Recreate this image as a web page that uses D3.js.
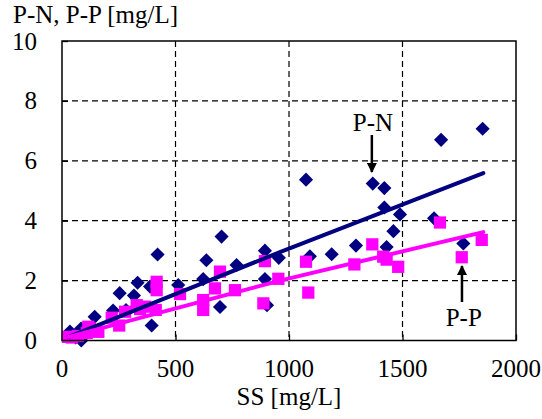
<!DOCTYPE html>
<html>
<head>
<meta charset="utf-8">
<script src="https://cdn.jsdelivr.net/npm/d3@7"></script>
<style>
  body { margin: 0; background: #fff; }
</style>
</head>
<body>
<svg id="chart"></svg>
<script>
// [SS, value] pairs
const pnPoints = [
  [35, 0.30], [60, 0.10], [84, 0.40], [85, 0.0], [144, 0.79], [225, 1.0],
  [254, 1.58], [282, 1.02], [317, 1.50], [333, 1.93], [388, 1.80], [395, 0.50],
  [421, 2.87], [512, 1.85], [622, 2.05], [636, 2.68], [696, 1.12], [703, 3.47],
  [769, 2.52], [894, 3.0], [894, 2.05], [903, 1.18], [955, 2.76], [1075, 5.37],
  [1092, 2.81], [1188, 2.88], [1295, 3.17], [1369, 5.24], [1420, 5.09], [1420, 4.44],
  [1430, 3.12], [1460, 3.65], [1489, 4.21], [1639, 4.08], [1670, 6.70], [1768, 3.24],
  [1853, 7.07]
]
const ppPoints = [
  [26, 0.12], [43, 0.10], [70, 0.15], [109, 0.25], [116, 0.46], [123, 0.40],
  [160, 0.29], [219, 0.76], [252, 0.50], [278, 0.96], [329, 1.18], [344, 1.05],
  [366, 1.13], [413, 1.02], [417, 1.68], [417, 1.96], [520, 1.55], [622, 1.02],
  [622, 1.35], [674, 1.74], [696, 2.30], [762, 1.68], [887, 1.24], [894, 2.65],
  [953, 2.06], [1075, 2.63], [1085, 1.60], [1288, 2.54], [1367, 3.21], [1415, 2.80],
  [1430, 2.70], [1481, 2.46], [1665, 3.94], [1761, 2.78], [1849, 3.36]
]
// trend lines as drawn
const pnTrend = [[30, 0.12], [960, 2.95], [1856, 5.59]]
const ppTrend = [[30, 0.12], [960, 2.0], [1856, 3.62]]

const xTicks = [0, 500, 1000, 1500, 2000]
const yTicks = [0, 2, 4, 6, 8, 10]

const width = 542
const height = 419
const plotL = 62, plotR = 516, plotT = 41, plotB = 340.5
const serif = '"Liberation Serif", "Times New Roman", serif'

const svg = d3.select('svg#chart')
  .attr('width', width)
  .attr('height', height)
  .style('font-family', serif)

const x = d3.scaleLinear().domain([0, 2000]).range([plotL, plotR])
const y = d3.scaleLinear().domain([0, 10]).range([plotB, plotT])

// dashed grid
const grid = svg.append('g')
  .attr('stroke', '#000')
  .attr('stroke-width', 1.2)
  .attr('stroke-dasharray', '6,4')
grid.selectAll('.gx')
  .data(xTicks.slice(1, -1))
  .enter().append('line')
  .attr('x1', d => x(d)).attr('x2', d => x(d))
  .attr('y1', plotT).attr('y2', plotB)
grid.selectAll('.gy')
  .data(yTicks.slice(1, -1))
  .enter().append('line')
  .attr('x1', plotL).attr('x2', plotR)
  .attr('y1', d => y(d)).attr('y2', d => y(d))

// axes with inward ticks
const xAxis = svg.append('g')
  .attr('transform', 'translate(0,' + plotB + ')')
  .call(d3.axisTop(x).tickValues(xTicks).tickSize(6).tickFormat(''))
const yAxis = svg.append('g')
  .attr('transform', 'translate(' + plotL + ',0)')
  .call(d3.axisRight(y).tickValues(yTicks).tickSize(6).tickFormat(''))
xAxis.select('.domain').remove()
yAxis.select('.domain').remove()
svg.selectAll('.tick line').attr('stroke', '#000').attr('stroke-width', 1.3)

const label = sel => sel
  .style('font-family', serif)
  .style('font-size', '25px')
  .attr('fill', '#000')

svg.append('g').selectAll('text')
  .data(xTicks)
  .enter().append('text')
  .attr('x', d => x(d))
  .attr('y', 377)
  .attr('text-anchor', 'middle')
  .call(label)
  .text(d => d)
svg.append('g').selectAll('text')
  .data(yTicks)
  .enter().append('text')
  .attr('x', 37)
  .attr('y', d => y(d) + 8.5)
  .attr('text-anchor', 'end')
  .call(label)
  .text(d => d)

// markers
const diamond = d3.symbol().type(d3.symbolSquare).size(100)
svg.append('g').selectAll('path')
  .data(pnPoints)
  .enter().append('path')
  .attr('d', diamond)
  .attr('transform', d => 'translate(' + x(d[0]) + ',' + y(d[1]) + ') rotate(45)')
  .attr('fill', '#000080')

const square = d3.symbol().type(d3.symbolSquare).size(150)
svg.append('g').selectAll('path')
  .data(ppPoints)
  .enter().append('path')
  .attr('d', square)
  .attr('transform', d => 'translate(' + x(d[0]) + ',' + y(d[1]) + ')')
  .attr('fill', '#ff00ff')

const line = d3.line().x(d => x(d[0])).y(d => y(d[1]))
svg.append('path')
  .datum(pnTrend)
  .attr('d', line)
  .attr('fill', 'none')
  .attr('stroke', '#000080')
  .attr('stroke-width', 4)
  .attr('stroke-linecap', 'round')
svg.append('path')
  .datum(ppTrend)
  .attr('d', line)
  .attr('fill', 'none')
  .attr('stroke', '#ff00ff')
  .attr('stroke-width', 4)
  .attr('stroke-linecap', 'round')

// plot frame
svg.append('rect')
  .attr('x', plotL).attr('y', plotT)
  .attr('width', plotR - plotL).attr('height', plotB - plotT)
  .attr('fill', 'none')
  .attr('stroke', '#000')
  .attr('stroke-width', 1.5)

// labels and arrows
svg.append('defs').append('marker')
  .attr('id', 'head')
  .attr('viewBox', '0 0 10 10')
  .attr('refX', 9).attr('refY', 5)
  .attr('markerWidth', 4).attr('markerHeight', 4)
  .attr('orient', 'auto')
  .append('path')
  .attr('d', 'M0,0 L10,5 L0,10 z')
  .attr('fill', '#000')

svg.append('line')
  .attr('x1', x(1365)).attr('y1', 135)
  .attr('x2', x(1365)).attr('y2', 172)
  .attr('stroke', '#000').attr('stroke-width', 2.5)
  .attr('marker-end', 'url(#head)')
svg.append('text')
  .attr('x', x(1370)).attr('y', 131)
  .attr('text-anchor', 'middle')
  .call(label)
  .text('P-N')

svg.append('line')
  .attr('x1', x(1762)).attr('y1', 302)
  .attr('x2', x(1762)).attr('y2', 266)
  .attr('stroke', '#000').attr('stroke-width', 2.5)
  .attr('marker-end', 'url(#head)')
svg.append('text')
  .attr('x', x(1770)).attr('y', 326)
  .attr('text-anchor', 'middle')
  .call(label)
  .text('P-P')

svg.append('text')
  .attr('x', 13).attr('y', 23)
  .call(label)
  .text('P-N, P-P [mg/L]')
svg.append('text')
  .attr('x', 289).attr('y', 405)
  .attr('text-anchor', 'middle')
  .call(label)
  .text('SS [mg/L]')
</script>
</body>
</html>
